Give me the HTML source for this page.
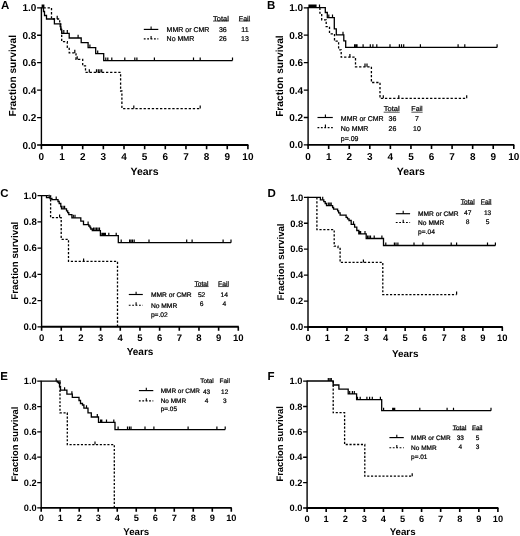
<!DOCTYPE html>
<html><head><meta charset="utf-8"><title>Kaplan-Meier survival curves</title>
<style>
html,body{margin:0;padding:0;background:#fff;}
body{width:520px;height:536px;overflow:hidden;}
svg{display:block;will-change:transform;}
text{font-family:"Liberation Sans", sans-serif;fill:#000;text-rendering:geometricPrecision;}
.tk{font-weight:bold;}
.yl{font-size:10.3px;font-weight:bold;}
.xl{font-size:10.5px;font-weight:bold;}
.let{font-size:11.5px;font-weight:bold;}
.lg{stroke:#000;stroke-width:0.22px;}
</style></head>
<body>
<svg width="520" height="536" viewBox="0 0 520 536">
<rect width="520" height="536" fill="#fff"/>
<path d="M41.40,7.30 V145.00" fill="none" stroke="#000" stroke-width="1.4"/>
<path d="M40.70,145.00 H248.40" fill="none" stroke="#000" stroke-width="1.9"/>
<path d="M37.10,7.80 H41.40 M37.10,35.24 H41.40 M37.10,62.68 H41.40 M37.10,90.12 H41.40 M37.10,117.56 H41.40 M37.10,145.00 H41.40" fill="none" stroke="#000" stroke-width="1.3"/>
<path d="M41.40,145.00 V149.20 M62.05,145.00 V149.20 M82.70,145.00 V149.20 M103.35,145.00 V149.20 M124.00,145.00 V149.20 M144.65,145.00 V149.20 M165.30,145.00 V149.20 M185.95,145.00 V149.20 M206.60,145.00 V149.20 M227.25,145.00 V149.20 M247.90,145.00 V149.20" fill="none" stroke="#000" stroke-width="1.6"/>
<text x="36.40" y="11.30" font-size="10.00" class="tk" text-anchor="end">1.0</text>
<text x="36.40" y="38.74" font-size="10.00" class="tk" text-anchor="end">0.8</text>
<text x="36.40" y="66.18" font-size="10.00" class="tk" text-anchor="end">0.6</text>
<text x="36.40" y="93.62" font-size="10.00" class="tk" text-anchor="end">0.4</text>
<text x="36.40" y="121.06" font-size="10.00" class="tk" text-anchor="end">0.2</text>
<text x="36.40" y="148.50" font-size="10.00" class="tk" text-anchor="end">0.0</text>
<text x="41.40" y="159.70" font-size="10.00" class="tk" text-anchor="middle">0</text>
<text x="62.05" y="159.70" font-size="10.00" class="tk" text-anchor="middle">1</text>
<text x="82.70" y="159.70" font-size="10.00" class="tk" text-anchor="middle">2</text>
<text x="103.35" y="159.70" font-size="10.00" class="tk" text-anchor="middle">3</text>
<text x="124.00" y="159.70" font-size="10.00" class="tk" text-anchor="middle">4</text>
<text x="144.65" y="159.70" font-size="10.00" class="tk" text-anchor="middle">5</text>
<text x="165.30" y="159.70" font-size="10.00" class="tk" text-anchor="middle">6</text>
<text x="185.95" y="159.70" font-size="10.00" class="tk" text-anchor="middle">7</text>
<text x="206.60" y="159.70" font-size="10.00" class="tk" text-anchor="middle">8</text>
<text x="227.25" y="159.70" font-size="10.00" class="tk" text-anchor="middle">9</text>
<text x="247.90" y="159.70" font-size="10.00" class="tk" text-anchor="middle">10</text>
<text transform="translate(15.90,75.80) rotate(-90)" font-size="10.20" class="tk" text-anchor="middle">Fraction survival</text>
<text x="144.50" y="174.60" font-size="10.50" class="tk" text-anchor="middle">Years</text>
<text x="1.00" y="9.40" class="let">A</text>
<path d="M41.4,7.8 H43.5 V11.5 H44.5 V15.5 H46.5 V19 H54.4 V23.9 H60.2 V26.5 H60.9 V29.5 H61.7 V33.3 H69.2 V38 H81.2 V42.7 H88.1 V47.6 H95.7 V53.6 H103.7 V60.6 H232.5" fill="none" stroke="#000" stroke-width="1.3"/>
<path d="M42.20,7.80 V4.60 M43.00,7.80 V4.60 M43.80,7.80 V4.60 M63.80,33.30 V30.10 M67.30,33.30 V30.10 M78.10,38.00 V34.80 M89.90,47.60 V44.40 M97.70,53.60 V50.40 M105.80,60.60 V57.40 M107.80,60.60 V57.40 M111.80,60.60 V57.40 M124.80,60.60 V57.40 M134.80,60.60 V57.40 M136.90,60.60 V57.40 M154.40,60.60 V57.40 M193.50,60.60 V57.40 M200.20,60.60 V57.40 M232.50,60.60 V57.40" fill="none" stroke="#000" stroke-width="1.2"/>
<path d="M43.5,7.8 H51.5 V19 H59.7 V24 H60.8 V29.5 H61.7 V41.7 H67.3 V47.3 H69.2 V52.9 H76.0 V59.4 H82.7 V65.9 H85.5 V72.4 H120.6 V91 H121.9 V108.6 H200.2" fill="none" stroke="#000" stroke-width="1.3" stroke-dasharray="2.30,1.80"/>
<path d="M57.20,19.00 V15.80 M74.80,52.90 V49.70 M77.20,59.40 V56.20 M89.30,72.40 V69.20 M96.50,72.40 V69.20 M98.30,72.40 V69.20 M100.00,72.40 V69.20 M101.70,72.40 V69.20 M133.80,108.60 V105.40 M200.20,108.60 V105.40" fill="none" stroke="#000" stroke-width="1.2"/>
<path d="M143.80,29.40 H158.30" fill="none" stroke="#000" stroke-width="1.15"/>
<path d="M143.80,38.90 H158.30" fill="none" stroke="#000" stroke-width="1.15" stroke-dasharray="1.8,1.6"/>
<path d="M151.10,29.40 V26.40 M151.10,38.90 V35.90" fill="none" stroke="#000" stroke-width="1.1"/>
<text x="166.60" y="32.00" font-size="7.00" class="lg">MMR or CMR</text>
<text x="166.60" y="41.30" font-size="7.00" class="lg">No MMR</text>
<text x="220.90" y="20.70" font-size="7.00" class="lg" text-anchor="middle" textLength="15.8" lengthAdjust="spacingAndGlyphs">Total</text>
<text x="244.50" y="20.70" font-size="7.00" class="lg" text-anchor="middle">Fail</text>
<path d="M213.00,21.05 h15.80 M238.86,21.05 h11.28" stroke="#000" stroke-width="0.7" fill="none"/>
<text x="222.80" y="31.80" font-size="7.00" class="lg" text-anchor="middle">36</text>
<text x="245.00" y="31.80" font-size="7.00" class="lg" text-anchor="middle">11</text>
<text x="222.80" y="41.10" font-size="7.00" class="lg" text-anchor="middle">26</text>
<text x="245.00" y="41.10" font-size="7.00" class="lg" text-anchor="middle">13</text>
<path d="M308.10,7.30 V144.90" fill="none" stroke="#000" stroke-width="1.4"/>
<path d="M307.40,144.90 H514.30" fill="none" stroke="#000" stroke-width="1.9"/>
<path d="M303.80,7.80 H308.10 M303.80,35.22 H308.10 M303.80,62.64 H308.10 M303.80,90.06 H308.10 M303.80,117.48 H308.10 M303.80,144.90 H308.10" fill="none" stroke="#000" stroke-width="1.3"/>
<path d="M308.10,144.90 V149.10 M328.67,144.90 V149.10 M349.24,144.90 V149.10 M369.81,144.90 V149.10 M390.38,144.90 V149.10 M410.95,144.90 V149.10 M431.52,144.90 V149.10 M452.09,144.90 V149.10 M472.66,144.90 V149.10 M493.23,144.90 V149.10 M513.80,144.90 V149.10" fill="none" stroke="#000" stroke-width="1.6"/>
<text x="303.10" y="11.30" font-size="10.00" class="tk" text-anchor="end">1.0</text>
<text x="303.10" y="38.72" font-size="10.00" class="tk" text-anchor="end">0.8</text>
<text x="303.10" y="66.14" font-size="10.00" class="tk" text-anchor="end">0.6</text>
<text x="303.10" y="93.56" font-size="10.00" class="tk" text-anchor="end">0.4</text>
<text x="303.10" y="120.98" font-size="10.00" class="tk" text-anchor="end">0.2</text>
<text x="303.10" y="148.40" font-size="10.00" class="tk" text-anchor="end">0.0</text>
<text x="308.10" y="159.60" font-size="10.00" class="tk" text-anchor="middle">0</text>
<text x="328.67" y="159.60" font-size="10.00" class="tk" text-anchor="middle">1</text>
<text x="349.24" y="159.60" font-size="10.00" class="tk" text-anchor="middle">2</text>
<text x="369.81" y="159.60" font-size="10.00" class="tk" text-anchor="middle">3</text>
<text x="390.38" y="159.60" font-size="10.00" class="tk" text-anchor="middle">4</text>
<text x="410.95" y="159.60" font-size="10.00" class="tk" text-anchor="middle">5</text>
<text x="431.52" y="159.60" font-size="10.00" class="tk" text-anchor="middle">6</text>
<text x="452.09" y="159.60" font-size="10.00" class="tk" text-anchor="middle">7</text>
<text x="472.66" y="159.60" font-size="10.00" class="tk" text-anchor="middle">8</text>
<text x="493.23" y="159.60" font-size="10.00" class="tk" text-anchor="middle">9</text>
<text x="513.80" y="159.60" font-size="10.00" class="tk" text-anchor="middle">10</text>
<text transform="translate(283.30,76.10) rotate(-90)" font-size="10.20" class="tk" text-anchor="middle">Fraction survival</text>
<text x="410.80" y="174.60" font-size="10.50" class="tk" text-anchor="middle">Years</text>
<text x="266.90" y="9.00" class="let">B</text>
<path d="M308.1,7.6 H325.3 V12.5 H327.3 V17.7 H334.3 V28.9 H336.3 V34.9 H343.8 V40.8 H345.7 V47.4 H497.1" fill="none" stroke="#000" stroke-width="1.3"/>
<path d="M309.00,7.60 V4.40 M310.00,7.60 V4.40 M311.00,7.60 V4.40 M312.00,7.60 V4.40 M313.00,7.60 V4.40 M314.00,7.60 V4.40 M315.00,7.60 V4.40 M316.00,7.60 V4.40 M319.50,7.60 V4.40 M328.80,17.70 V14.50 M332.50,17.70 V14.50 M343.00,34.90 V31.70 M354.60,47.40 V44.20 M355.90,47.40 V44.20 M357.00,47.40 V44.20 M363.10,47.40 V44.20 M370.30,47.40 V44.20 M372.90,47.40 V44.20 M376.80,47.40 V44.20 M390.00,47.40 V44.20 M399.40,47.40 V44.20 M401.50,47.40 V44.20 M403.70,47.40 V44.20 M420.40,47.40 V44.20 M458.10,47.40 V44.20 M464.80,47.40 V44.20 M497.10,47.40 V44.20" fill="none" stroke="#000" stroke-width="1.2"/>
<path d="M319.9,7.6 V13.2 H321.7 V19.9 H326.2 V26.6 H329.5 V33.8 H334.5 V41.2 H338.6 V49.8 H341.2 V57.2 H355.5 V66.8 H371.4 V82.5 H380 V98.35 H466.7" fill="none" stroke="#000" stroke-width="1.3" stroke-dasharray="2.30,1.80"/>
<path d="M349.90,57.20 V54.00 M365.00,66.80 V63.60 M367.00,66.80 V63.60 M383.30,98.35 V95.15 M398.80,98.35 V95.15 M466.70,98.35 V95.15" fill="none" stroke="#000" stroke-width="1.2"/>
<path d="M317.50,117.50 H332.80" fill="none" stroke="#000" stroke-width="1.15"/>
<path d="M317.50,127.60 H332.80" fill="none" stroke="#000" stroke-width="1.15" stroke-dasharray="1.8,1.6"/>
<path d="M325.40,117.50 V114.50 M325.40,127.60 V124.60" fill="none" stroke="#000" stroke-width="1.1"/>
<text x="340.80" y="120.50" font-size="7.00" class="lg">MMR or CMR</text>
<text x="340.80" y="130.60" font-size="7.00" class="lg">No MMR</text>
<text x="340.80" y="140.70" font-size="7.00" class="lg">p=.09</text>
<text x="391.70" y="111.20" font-size="7.00" class="lg" text-anchor="middle" textLength="16.0" lengthAdjust="spacingAndGlyphs">Total</text>
<text x="417.00" y="111.20" font-size="7.00" class="lg" text-anchor="middle">Fail</text>
<path d="M383.70,112.20 h16.00 M411.36,112.20 h11.28" stroke="#000" stroke-width="0.7" fill="none"/>
<text x="392.40" y="120.60" font-size="7.00" class="lg" text-anchor="middle">36</text>
<text x="417.00" y="120.60" font-size="7.00" class="lg" text-anchor="middle">7</text>
<text x="392.40" y="130.50" font-size="7.00" class="lg" text-anchor="middle">26</text>
<text x="417.00" y="130.50" font-size="7.00" class="lg" text-anchor="middle">10</text>
<path d="M41.60,195.10 V326.80" fill="none" stroke="#000" stroke-width="1.4"/>
<path d="M40.90,326.80 H238.80" fill="none" stroke="#000" stroke-width="1.9"/>
<path d="M37.49,195.60 H41.60 M37.49,221.84 H41.60 M37.49,248.08 H41.60 M37.49,274.32 H41.60 M37.49,300.56 H41.60 M37.49,326.80 H41.60" fill="none" stroke="#000" stroke-width="1.3"/>
<path d="M41.60,326.80 V330.81 M61.27,326.80 V330.81 M80.94,326.80 V330.81 M100.61,326.80 V330.81 M120.28,326.80 V330.81 M139.95,326.80 V330.81 M159.62,326.80 V330.81 M179.29,326.80 V330.81 M198.96,326.80 V330.81 M218.63,326.80 V330.81 M238.30,326.80 V330.81" fill="none" stroke="#000" stroke-width="1.6"/>
<text x="36.83" y="198.94" font-size="9.55" class="tk" text-anchor="end">1.0</text>
<text x="36.83" y="225.18" font-size="9.55" class="tk" text-anchor="end">0.8</text>
<text x="36.83" y="251.42" font-size="9.55" class="tk" text-anchor="end">0.6</text>
<text x="36.83" y="277.66" font-size="9.55" class="tk" text-anchor="end">0.4</text>
<text x="36.83" y="303.90" font-size="9.55" class="tk" text-anchor="end">0.2</text>
<text x="36.83" y="330.14" font-size="9.55" class="tk" text-anchor="end">0.0</text>
<text x="41.60" y="340.84" font-size="9.55" class="tk" text-anchor="middle">0</text>
<text x="61.27" y="340.84" font-size="9.55" class="tk" text-anchor="middle">1</text>
<text x="80.94" y="340.84" font-size="9.55" class="tk" text-anchor="middle">2</text>
<text x="100.61" y="340.84" font-size="9.55" class="tk" text-anchor="middle">3</text>
<text x="120.28" y="340.84" font-size="9.55" class="tk" text-anchor="middle">4</text>
<text x="139.95" y="340.84" font-size="9.55" class="tk" text-anchor="middle">5</text>
<text x="159.62" y="340.84" font-size="9.55" class="tk" text-anchor="middle">6</text>
<text x="179.29" y="340.84" font-size="9.55" class="tk" text-anchor="middle">7</text>
<text x="198.96" y="340.84" font-size="9.55" class="tk" text-anchor="middle">8</text>
<text x="218.63" y="340.84" font-size="9.55" class="tk" text-anchor="middle">9</text>
<text x="238.30" y="340.84" font-size="9.55" class="tk" text-anchor="middle">10</text>
<text transform="translate(17.70,260.70) rotate(-90)" font-size="9.74" class="tk" text-anchor="middle">Fraction survival</text>
<text x="140.00" y="354.90" font-size="10.03" class="tk" text-anchor="middle">Years</text>
<text x="0.30" y="197.30" class="let">C</text>
<path d="M41.6,195.6 H46.5 V197.7 H50 V198.5 H51.9 V199.6 H58 V201.5 H59.2 V203.5 H60.8 V206.5 H61.5 V208.8 H66.5 V210.8 H67.7 V212.7 H68.8 V214.6 H71.9 V217.8 H80.8 V221.2 H83.5 V224.6 H88.8 V226 H90 V227.5 H90.8 V229 H92.3 V230.6 H100.4 V235.7 H118.3 V242.65 H231.0" fill="none" stroke="#000" stroke-width="1.3"/>
<path d="M49.20,197.70 V194.64 M56.20,199.60 V196.54 M63.10,208.80 V205.74 M64.60,208.80 V205.74 M73.30,217.80 V214.74 M75.00,217.80 V214.74 M88.10,224.60 V221.54 M93.50,230.60 V227.54 M95.00,230.60 V227.54 M96.50,230.60 V227.54 M98.00,230.60 V227.54 M99.50,230.60 V227.54 M101.90,235.70 V232.64 M103.00,235.70 V232.64 M104.20,235.70 V232.64 M105.40,235.70 V232.64 M108.80,235.70 V232.64 M116.20,235.70 V232.64 M121.20,242.65 V239.59 M129.60,242.65 V239.59 M131.00,242.65 V239.59 M132.50,242.65 V239.59 M134.20,242.65 V239.59 M149.00,242.65 V239.59 M186.70,242.65 V239.59 M192.10,242.65 V239.59 M223.10,242.65 V239.59 M231.00,242.65 V239.59" fill="none" stroke="#000" stroke-width="1.2"/>
<path d="M46.5,195.6 H50.6 V217.6 H61.2 V239.3 H68.5 V261.45 H117.5 V326.8" fill="none" stroke="#000" stroke-width="1.3" stroke-dasharray="2.20,1.72"/>
<path d="M59.60,217.60 V214.54 M83.60,261.45 V258.39" fill="none" stroke="#000" stroke-width="1.2"/>
<path d="M128.80,294.50 H142.80" fill="none" stroke="#000" stroke-width="1.15"/>
<path d="M128.80,305.20 H142.80" fill="none" stroke="#000" stroke-width="1.15" stroke-dasharray="1.8,1.6"/>
<path d="M136.10,294.50 V291.63 M136.10,305.20 V302.33" fill="none" stroke="#000" stroke-width="1.1"/>
<text x="150.90" y="297.00" font-size="6.68" class="lg">MMR or CMR</text>
<text x="150.90" y="307.50" font-size="6.68" class="lg">No MMR</text>
<text x="150.90" y="317.20" font-size="6.68" class="lg">p=.02</text>
<text x="201.50" y="286.20" font-size="6.68" class="lg" text-anchor="middle">Total</text>
<text x="223.50" y="286.20" font-size="6.68" class="lg" text-anchor="middle">Fail</text>
<path d="M194.43,286.55 h14.13 M218.11,286.55 h10.77" stroke="#000" stroke-width="0.7" fill="none"/>
<text x="201.60" y="297.00" font-size="6.68" class="lg" text-anchor="middle">52</text>
<text x="224.30" y="297.00" font-size="6.68" class="lg" text-anchor="middle">14</text>
<text x="201.60" y="306.10" font-size="6.68" class="lg" text-anchor="middle">6</text>
<text x="224.30" y="306.10" font-size="6.68" class="lg" text-anchor="middle">4</text>
<path d="M308.00,196.80 V327.00" fill="none" stroke="#000" stroke-width="1.4"/>
<path d="M307.30,327.00 H502.80" fill="none" stroke="#000" stroke-width="1.9"/>
<path d="M303.94,197.30 H308.00 M303.94,223.24 H308.00 M303.94,249.18 H308.00 M303.94,275.12 H308.00 M303.94,301.06 H308.00 M303.94,327.00 H308.00" fill="none" stroke="#000" stroke-width="1.3"/>
<path d="M308.00,327.00 V330.96 M327.43,327.00 V330.96 M346.86,327.00 V330.96 M366.29,327.00 V330.96 M385.72,327.00 V330.96 M405.15,327.00 V330.96 M424.58,327.00 V330.96 M444.01,327.00 V330.96 M463.44,327.00 V330.96 M482.87,327.00 V330.96 M502.30,327.00 V330.96" fill="none" stroke="#000" stroke-width="1.6"/>
<text x="303.28" y="200.60" font-size="9.44" class="tk" text-anchor="end">1.0</text>
<text x="303.28" y="226.54" font-size="9.44" class="tk" text-anchor="end">0.8</text>
<text x="303.28" y="252.48" font-size="9.44" class="tk" text-anchor="end">0.6</text>
<text x="303.28" y="278.42" font-size="9.44" class="tk" text-anchor="end">0.4</text>
<text x="303.28" y="304.36" font-size="9.44" class="tk" text-anchor="end">0.2</text>
<text x="303.28" y="330.30" font-size="9.44" class="tk" text-anchor="end">0.0</text>
<text x="308.00" y="340.88" font-size="9.44" class="tk" text-anchor="middle">0</text>
<text x="327.43" y="340.88" font-size="9.44" class="tk" text-anchor="middle">1</text>
<text x="346.86" y="340.88" font-size="9.44" class="tk" text-anchor="middle">2</text>
<text x="366.29" y="340.88" font-size="9.44" class="tk" text-anchor="middle">3</text>
<text x="385.72" y="340.88" font-size="9.44" class="tk" text-anchor="middle">4</text>
<text x="405.15" y="340.88" font-size="9.44" class="tk" text-anchor="middle">5</text>
<text x="424.58" y="340.88" font-size="9.44" class="tk" text-anchor="middle">6</text>
<text x="444.01" y="340.88" font-size="9.44" class="tk" text-anchor="middle">7</text>
<text x="463.44" y="340.88" font-size="9.44" class="tk" text-anchor="middle">8</text>
<text x="482.87" y="340.88" font-size="9.44" class="tk" text-anchor="middle">9</text>
<text x="502.30" y="340.88" font-size="9.44" class="tk" text-anchor="middle">10</text>
<text transform="translate(283.80,262.00) rotate(-90)" font-size="9.63" class="tk" text-anchor="middle">Fraction survival</text>
<text x="405.20" y="356.90" font-size="9.91" class="tk" text-anchor="middle">Years</text>
<text x="267.60" y="196.80" class="let">D</text>
<path d="M308,197.4 H320.4 V199.8 H323.8 V201.6 H325.2 V203.5 H326.5 V205.6 H332.6 V207.5 H333.6 V209.2 H337.6 V210.8 H338.6 V212.8 H340.1 V215.2 H346.1 V217.4 H347.5 V218.9 H349 V220.5 H351.2 V224.3 H354.6 V227.2 H356.8 V230.5 H358.8 V233.9 H366.2 V238.5 H383.5 V245.5 H495.4" fill="none" stroke="#000" stroke-width="1.3"/>
<path d="M322.70,199.80 V196.78 M328.30,205.60 V202.58 M329.80,205.60 V202.58 M331.20,205.60 V202.58 M353.50,224.30 V221.28 M359.60,233.90 V230.88 M360.60,233.90 V230.88 M365.00,233.90 V230.88 M367.50,238.50 V235.48 M369.00,238.50 V235.48 M370.50,238.50 V235.48 M374.20,238.50 V235.48 M381.90,238.50 V235.48 M385.80,245.50 V242.48 M394.40,245.50 V242.48 M396.00,245.50 V242.48 M397.90,245.50 V242.48 M414.00,245.50 V242.48 M422.90,245.50 V242.48 M451.20,245.50 V242.48 M456.60,245.50 V242.48 M487.50,245.50 V242.48 M495.40,245.50 V242.48" fill="none" stroke="#000" stroke-width="1.2"/>
<path d="M316.9,197.4 V229.7 H334.2 V246.2 H338 V247.5 H340.1 V262.45 H382.8 V294.6 H456.6" fill="none" stroke="#000" stroke-width="1.3" stroke-dasharray="2.17,1.70"/>
<path d="M363.40,262.45 V259.43 M456.60,294.60 V291.58" fill="none" stroke="#000" stroke-width="1.2"/>
<path d="M395.80,213.70 H410.10" fill="none" stroke="#000" stroke-width="1.15"/>
<path d="M395.80,222.50 H410.10" fill="none" stroke="#000" stroke-width="1.15" stroke-dasharray="1.8,1.6"/>
<path d="M403.20,213.70 V210.87 M403.20,222.50 V219.67" fill="none" stroke="#000" stroke-width="1.1"/>
<text x="418.10" y="216.30" font-size="6.61" class="lg">MMR or CMR</text>
<text x="418.10" y="225.00" font-size="6.61" class="lg">No MMR</text>
<text x="418.10" y="233.60" font-size="6.61" class="lg">p=.04</text>
<text x="467.70" y="204.00" font-size="6.61" class="lg" text-anchor="middle">Total</text>
<text x="486.20" y="204.00" font-size="6.61" class="lg" text-anchor="middle">Fail</text>
<path d="M460.71,204.35 h13.97 M480.88,204.35 h10.65" stroke="#000" stroke-width="0.7" fill="none"/>
<text x="467.70" y="214.80" font-size="6.61" class="lg" text-anchor="middle">47</text>
<text x="487.60" y="214.80" font-size="6.61" class="lg" text-anchor="middle">13</text>
<text x="467.70" y="224.40" font-size="6.61" class="lg" text-anchor="middle">8</text>
<text x="487.60" y="224.40" font-size="6.61" class="lg" text-anchor="middle">5</text>
<path d="M41.20,380.70 V507.90" fill="none" stroke="#000" stroke-width="1.4"/>
<path d="M40.50,507.90 H231.80" fill="none" stroke="#000" stroke-width="1.9"/>
<path d="M37.24,381.20 H41.20 M37.24,406.54 H41.20 M37.24,431.88 H41.20 M37.24,457.22 H41.20 M37.24,482.56 H41.20 M37.24,507.90 H41.20" fill="none" stroke="#000" stroke-width="1.3"/>
<path d="M41.20,507.90 V511.77 M60.21,507.90 V511.77 M79.22,507.90 V511.77 M98.23,507.90 V511.77 M117.24,507.90 V511.77 M136.25,507.90 V511.77 M155.26,507.90 V511.77 M174.27,507.90 V511.77 M193.28,507.90 V511.77 M212.29,507.90 V511.77 M231.30,507.90 V511.77" fill="none" stroke="#000" stroke-width="1.6"/>
<text x="36.59" y="384.43" font-size="9.22" class="tk" text-anchor="end">1.0</text>
<text x="36.59" y="409.77" font-size="9.22" class="tk" text-anchor="end">0.8</text>
<text x="36.59" y="435.11" font-size="9.22" class="tk" text-anchor="end">0.6</text>
<text x="36.59" y="460.45" font-size="9.22" class="tk" text-anchor="end">0.4</text>
<text x="36.59" y="485.79" font-size="9.22" class="tk" text-anchor="end">0.2</text>
<text x="36.59" y="511.13" font-size="9.22" class="tk" text-anchor="end">0.0</text>
<text x="41.20" y="521.45" font-size="9.22" class="tk" text-anchor="middle">0</text>
<text x="60.21" y="521.45" font-size="9.22" class="tk" text-anchor="middle">1</text>
<text x="79.22" y="521.45" font-size="9.22" class="tk" text-anchor="middle">2</text>
<text x="98.23" y="521.45" font-size="9.22" class="tk" text-anchor="middle">3</text>
<text x="117.24" y="521.45" font-size="9.22" class="tk" text-anchor="middle">4</text>
<text x="136.25" y="521.45" font-size="9.22" class="tk" text-anchor="middle">5</text>
<text x="155.26" y="521.45" font-size="9.22" class="tk" text-anchor="middle">6</text>
<text x="174.27" y="521.45" font-size="9.22" class="tk" text-anchor="middle">7</text>
<text x="193.28" y="521.45" font-size="9.22" class="tk" text-anchor="middle">8</text>
<text x="212.29" y="521.45" font-size="9.22" class="tk" text-anchor="middle">9</text>
<text x="231.30" y="521.45" font-size="9.22" class="tk" text-anchor="middle">10</text>
<text transform="translate(17.80,444.10) rotate(-90)" font-size="9.40" class="tk" text-anchor="middle">Fraction survival</text>
<text x="136.20" y="534.60" font-size="9.68" class="tk" text-anchor="middle">Years</text>
<text x="0.30" y="380.10" class="let">E</text>
<path d="M41.2,381.2 H57.3 V382.2 H58.5 V383.2 H59.5 V386.5 H60.5 V390.2 H66.9 V394.1 H72.3 V397.3 H79.0 V400.5 H80.5 V403.5 H82.5 V405.0 H83.9 V408.2 H88.0 V412.8 H91.3 V417.0 H98.5 V422.4 H115.0 V429.55 H225.2" fill="none" stroke="#000" stroke-width="1.3"/>
<path d="M56.20,381.20 V378.25 M60.00,383.20 V380.25 M64.60,390.20 V387.25 M71.90,394.10 V391.15 M86.50,408.20 V405.25 M97.30,417.00 V414.05 M100.60,422.40 V419.45 M101.80,422.40 V419.45 M106.50,422.40 V419.45 M113.80,422.40 V419.45 M118.10,429.55 V426.60 M127.50,429.55 V426.60 M129.40,429.55 V426.60 M131.00,429.55 V426.60 M145.00,429.55 V426.60 M153.90,429.55 V426.60 M188.10,429.55 V426.60 M216.90,429.55 V426.60 M225.20,429.55 V426.60" fill="none" stroke="#000" stroke-width="1.2"/>
<path d="M57.3,381.2 H60.0 V412.8 H67.3 V444.55 H114.3 V507.9" fill="none" stroke="#000" stroke-width="1.3" stroke-dasharray="2.12,1.66"/>
<path d="M95.00,444.55 V441.60" fill="none" stroke="#000" stroke-width="1.2"/>
<path d="M138.90,390.60 H153.30" fill="none" stroke="#000" stroke-width="1.15"/>
<path d="M138.90,400.90 H153.30" fill="none" stroke="#000" stroke-width="1.15" stroke-dasharray="1.8,1.6"/>
<path d="M146.30,390.60 V387.83 M146.30,400.90 V398.13" fill="none" stroke="#000" stroke-width="1.1"/>
<text x="160.70" y="392.80" font-size="6.45" class="lg">MMR or CMR</text>
<text x="160.70" y="403.10" font-size="6.45" class="lg">No MMR</text>
<text x="160.70" y="411.30" font-size="6.45" class="lg">p=.05</text>
<text x="207.00" y="383.00" font-size="6.45" class="lg" text-anchor="middle">Total</text>
<text x="224.70" y="383.00" font-size="6.45" class="lg" text-anchor="middle">Fail</text>
<text x="206.50" y="393.70" font-size="6.45" class="lg" text-anchor="middle">43</text>
<text x="224.70" y="393.70" font-size="6.45" class="lg" text-anchor="middle">12</text>
<text x="206.50" y="402.90" font-size="6.45" class="lg" text-anchor="middle">4</text>
<text x="224.70" y="402.90" font-size="6.45" class="lg" text-anchor="middle">3</text>
<path d="M307.10,380.60 V508.00" fill="none" stroke="#000" stroke-width="1.4"/>
<path d="M306.40,508.00 H498.40" fill="none" stroke="#000" stroke-width="1.9"/>
<path d="M303.12,381.10 H307.10 M303.12,406.48 H307.10 M303.12,431.86 H307.10 M303.12,457.24 H307.10 M303.12,482.62 H307.10 M303.12,508.00 H307.10" fill="none" stroke="#000" stroke-width="1.3"/>
<path d="M307.10,508.00 V511.88 M326.18,508.00 V511.88 M345.26,508.00 V511.88 M364.34,508.00 V511.88 M383.42,508.00 V511.88 M402.50,508.00 V511.88 M421.58,508.00 V511.88 M440.66,508.00 V511.88 M459.74,508.00 V511.88 M478.82,508.00 V511.88 M497.90,508.00 V511.88" fill="none" stroke="#000" stroke-width="1.6"/>
<text x="302.48" y="384.34" font-size="9.25" class="tk" text-anchor="end">1.0</text>
<text x="302.48" y="409.72" font-size="9.25" class="tk" text-anchor="end">0.8</text>
<text x="302.48" y="435.10" font-size="9.25" class="tk" text-anchor="end">0.6</text>
<text x="302.48" y="460.48" font-size="9.25" class="tk" text-anchor="end">0.4</text>
<text x="302.48" y="485.86" font-size="9.25" class="tk" text-anchor="end">0.2</text>
<text x="302.48" y="511.24" font-size="9.25" class="tk" text-anchor="end">0.0</text>
<text x="307.10" y="521.60" font-size="9.25" class="tk" text-anchor="middle">0</text>
<text x="326.18" y="521.60" font-size="9.25" class="tk" text-anchor="middle">1</text>
<text x="345.26" y="521.60" font-size="9.25" class="tk" text-anchor="middle">2</text>
<text x="364.34" y="521.60" font-size="9.25" class="tk" text-anchor="middle">3</text>
<text x="383.42" y="521.60" font-size="9.25" class="tk" text-anchor="middle">4</text>
<text x="402.50" y="521.60" font-size="9.25" class="tk" text-anchor="middle">5</text>
<text x="421.58" y="521.60" font-size="9.25" class="tk" text-anchor="middle">6</text>
<text x="440.66" y="521.60" font-size="9.25" class="tk" text-anchor="middle">7</text>
<text x="459.74" y="521.60" font-size="9.25" class="tk" text-anchor="middle">8</text>
<text x="478.82" y="521.60" font-size="9.25" class="tk" text-anchor="middle">9</text>
<text x="497.90" y="521.60" font-size="9.25" class="tk" text-anchor="middle">10</text>
<text transform="translate(283.40,443.90) rotate(-90)" font-size="9.44" class="tk" text-anchor="middle">Fraction survival</text>
<text x="402.60" y="534.90" font-size="9.71" class="tk" text-anchor="middle">Years</text>
<text x="267.60" y="380.10" class="let">F</text>
<path d="M307.1,381.0 H333.2 V385.0 H338.9 V389.2 H348.2 V393.9 H356.6 V399.7 H381.7 V410.65 H491.0" fill="none" stroke="#000" stroke-width="1.3"/>
<path d="M328.30,381.00 V378.04 M329.90,381.00 V378.04 M331.30,381.00 V378.04 M349.70,393.90 V390.94 M352.40,393.90 V390.94 M354.30,393.90 V390.94 M357.50,399.70 V396.74 M360.20,399.70 V396.74 M366.90,399.70 V396.74 M369.60,399.70 V396.74 M372.30,399.70 V396.74 M380.40,399.70 V396.74 M383.60,410.65 V407.69 M392.70,410.65 V407.69 M393.70,410.65 V407.69 M394.70,410.65 V407.69 M419.80,410.65 V407.69 M447.10,410.65 V407.69 M453.50,410.65 V407.69 M491.00,410.65 V407.69" fill="none" stroke="#000" stroke-width="1.2"/>
<path d="M333.2,381.0 V412.7 H344.6 V444.5 H364.8 V476.2 H412.2" fill="none" stroke="#000" stroke-width="1.3" stroke-dasharray="2.13,1.67"/>
<path d="M412.20,476.20 V473.24" fill="none" stroke="#000" stroke-width="1.2"/>
<path d="M389.40,437.60 H403.80" fill="none" stroke="#000" stroke-width="1.15"/>
<path d="M389.40,447.70 H403.80" fill="none" stroke="#000" stroke-width="1.15" stroke-dasharray="1.8,1.6"/>
<path d="M396.80,437.60 V434.83 M396.80,447.70 V444.93" fill="none" stroke="#000" stroke-width="1.1"/>
<text x="411.10" y="440.40" font-size="6.48" class="lg">MMR or CMR</text>
<text x="411.10" y="449.90" font-size="6.48" class="lg">No MMR</text>
<text x="411.10" y="458.80" font-size="6.48" class="lg">p=.01</text>
<text x="459.50" y="429.50" font-size="6.48" class="lg" text-anchor="middle">Total</text>
<text x="477.20" y="429.50" font-size="6.48" class="lg" text-anchor="middle">Fail</text>
<path d="M452.65,429.85 h13.69 M471.98,429.85 h10.43" stroke="#000" stroke-width="0.7" fill="none"/>
<text x="460.30" y="439.70" font-size="6.48" class="lg" text-anchor="middle">33</text>
<text x="477.60" y="439.70" font-size="6.48" class="lg" text-anchor="middle">5</text>
<text x="460.30" y="448.90" font-size="6.48" class="lg" text-anchor="middle">4</text>
<text x="477.60" y="448.90" font-size="6.48" class="lg" text-anchor="middle">3</text>
</svg>
</body></html>
